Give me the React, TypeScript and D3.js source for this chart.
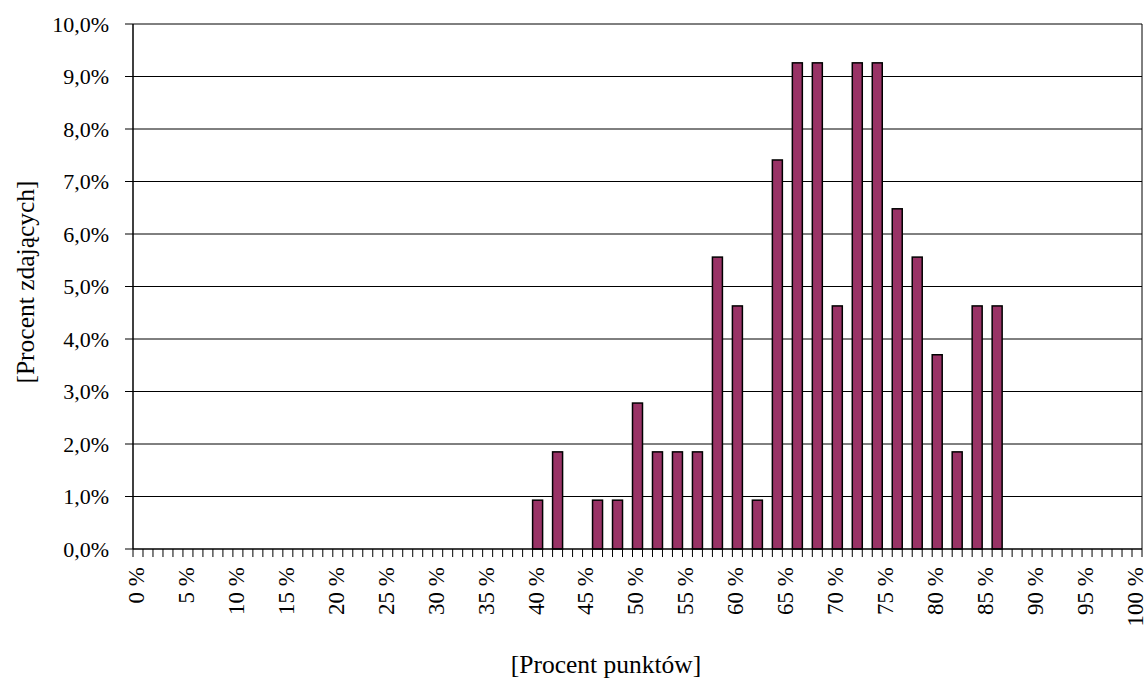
import React from "react";
import * as d3 from "d3";

// kategorie osi X: 0..100 %
const categories: number[] = d3.range(0, 101);
const tickLabels = ["0 %", "5 %", "10 %", "15 %", "20 %", "25 %", "30 %", "35 %", "40 %", "45 %", "50 %",
  "55 %", "60 %", "65 %", "70 %", "75 %", "80 %", "85 %", "90 %", "95 %", "100 %"];
const labelCats = [0, 5, 10, 15, 20, 25, 30, 35, 40, 45, 50, 55, 60, 65, 70, 75, 80, 85, 90, 95, 100];

// słupki (wartości niezerowe)
const barCats = [40, 42, 46, 48, 50, 52, 54, 56, 58, 60, 62, 64, 66, 68, 70, 72, 74, 76, 78, 80, 82, 84, 86];
const barValues = [0.93, 1.85, 0.93, 0.93, 2.78, 1.85, 1.85, 1.85, 5.56, 4.63, 0.93, 7.41, 9.26, 9.26,
  4.63, 9.26, 9.26, 6.48, 5.56, 3.7, 1.85, 4.63, 4.63];
const yTicks = [0, 1, 2, 3, 4, 5, 6, 7, 8, 9, 10];

const W = 1148;
const H = 680;
const left = 133;
const right = 1142;
const top = 24;
const bottom = 549;
const font = "Liberation Serif, DejaVu Serif, Times New Roman, serif";

export default function App() {
  const x = d3.scaleBand<number>().domain(categories).range([left, right]).padding(0);
  const y = d3.scaleLinear().domain([0, 10]).range([bottom, top]);
  const fmt = (v: number) => v.toFixed(1).replace(".", ",") + "%";
  const bw = x.bandwidth();
  const boundaries = categories.map((c) => x(c)!).concat([right]);
  const txt = { fontFamily: font, fill: "#000" };

  return (
    <svg width={W} height={H} style={{ position: "absolute", left: 0, top: 0, background: "#fff" }}>
      {yTicks.slice(1).map((t) => (
        <line key={"g" + t} x1={left} x2={right} y1={y(t)} y2={y(t)} stroke="#000" strokeWidth={1} />
      ))}
      <line x1={right} x2={right} y1={top} y2={bottom} stroke="#000" strokeWidth={1} />
      {barCats.map((c, i) => (
        <rect key={"b" + c} x={x(c)} y={y(barValues[i])} width={bw} height={bottom - y(barValues[i])}
          fill="#993366" stroke="#000" strokeWidth={1.5} />
      ))}
      {/* oś Y */}
      <line x1={left} x2={left} y1={top} y2={bottom} stroke="#000" strokeWidth={1.5} />
      {yTicks.map((t) => (
        <g key={"y" + t}>
          <line x1={left - 8} x2={left} y1={y(t)} y2={y(t)} stroke="#000" strokeWidth={1} />
          <text x={109} y={y(t)} dy="0.35em" textAnchor="end" fontSize={22} style={txt}>
            {fmt(t)}
          </text>
        </g>
      ))}
      {/* oś X */}
      <line x1={left} x2={right} y1={bottom} y2={bottom} stroke="#000" strokeWidth={1.5} />
      {boundaries.map((b, i) => (
        <line key={"t" + i} x1={b} x2={b} y1={bottom} y2={bottom + 8} stroke="#000" strokeWidth={1} />
      ))}
      {labelCats.map((c, i) => {
        const cx = x(c)! + bw / 2 - 1;
        return (
          <text key={"x" + c} transform={`translate(${cx},567) rotate(-90)`} dy="0.3em" textAnchor="end"
            fontSize={23} style={txt}>
            {tickLabels[i]}
          </text>
        );
      })}
      <text x={606} y={673} textAnchor="middle" fontSize={25.5} style={txt}>
        [Procent punktów]
      </text>
      <text transform={`translate(25,282) rotate(-90)`} dy="0.35em" textAnchor="middle"
        fontSize={25.5} style={txt}>
        [Procent zdających]
      </text>
    </svg>
  );
}
